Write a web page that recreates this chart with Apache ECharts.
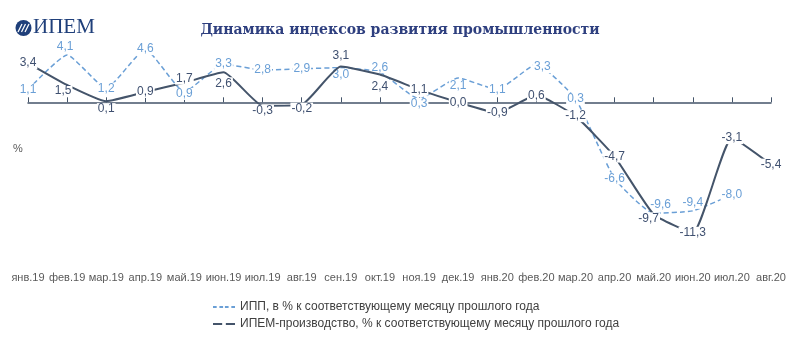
<!DOCTYPE html>
<html>
<head>
<meta charset="utf-8">
<script src="https://cdn.jsdelivr.net/npm/echarts@6/dist/echarts.min.js"></script>
<style>
  html, body { margin: 0; padding: 0; background: #fff; }
  #chart { width: 800px; height: 351px; }
</style>
</head>
<body>
<div id="chart"></div>
<script>
// месяцы
const months = ['янв.19', 'фев.19', 'мар.19', 'апр.19', 'май.19', 'июн.19', 'июл.19', 'авг.19', 'сен.19', 'окт.19',
  'ноя.19', 'дек.19', 'янв.20', 'фев.20', 'мар.20', 'апр.20', 'май.20', 'июн.20', 'июл.20', 'авг.20'];

// ИПП, в % к соответствующему месяцу прошлого года
const ippValues = [1.1, 4.1, 1.2, 4.6, 0.9, 3.3, 2.8, 2.9, 3.0, 2.6, 0.3, 2.1, 1.1, 3.3, 0.3, -6.6, -9.6, -9.4, -8.0, null];
// ИПЕМ-производство
const ipemValues = [3.4, 1.5, 0.1, 0.9, 1.7, 2.6, -0.3, -0.2, 3.1, 2.4, 1.1, 0.0, -0.9, 0.6, -1.2, -4.7, -9.7, -11.3, -3.1, -5.4];

const seriesNames = ['ИПП, в % к соответствующему месяцу прошлого года', 'ИПЕМ-производство, % к соответствующему месяцу прошлого года'];

// сдвиги подписей (как в исходнике)
const ippLabelShift = { 1: [-2, -8], 4: [0, 2], 8: [0, 7], 9: [0, -5], 10: [0, 5], 11: [0, 8], 13: [6, 3], 16: [7, -8], 17: [0, -8] };
const ipemLabelShift = { 1: [-4, 6], 2: [0, 8], 4: [0, -4], 5: [0, 11], 6: [0, 5], 7: [0, 4], 8: [0, -11], 9: [0, 12], 16: [-5, 4] };

const fmt = v => v.toFixed(1).replace('.', ',');

function buildData(values, shifts) {
  return values.map((v, i) => {
    if (v === null) return null;
    const item = { value: v };
    if (shifts[i]) item.label = { offset: shifts[i] };
    return item;
  });
}

const chart = echarts.init(document.getElementById('chart'), null, { renderer: 'canvas' });

const labelBase = {
  show: true,
  position: 'inside',
  fontSize: 12,
  fontFamily: 'Liberation Sans, Arial',
  backgroundColor: '#fff',
  padding: [0, 1],
  formatter: p => fmt(p.value)
};

const option = {
  backgroundColor: '#ffffff',
  animation: false,
  title: {
    text: 'Динамика индексов развития промышленности',
    left: 'center',
    top: 18,
    textStyle: { fontFamily: 'DejaVu Serif', fontWeight: 'bold', fontSize: 14, color: '#2e3f7f' }
  },
  graphic: [
    { type: 'circle', shape: { cx: 23.5, cy: 28, r: 8 }, style: { fill: '#1f3f7a' } },
    { type: 'line', shape: { x1: 18, y1: 32, x2: 22, y2: 24 }, style: { stroke: '#fff', lineWidth: 1.2 } },
    { type: 'line', shape: { x1: 21.5, y1: 32, x2: 25.5, y2: 24 }, style: { stroke: '#fff', lineWidth: 1.2 } },
    { type: 'line', shape: { x1: 25, y1: 32, x2: 29, y2: 24 }, style: { stroke: '#fff', lineWidth: 1.2 } },
    { type: 'text', left: 33, top: 17, style: { text: 'ИПЕМ', font: '21px "Liberation Serif"', fill: '#1f3f7a' } },
    { type: 'text', left: 13, top: 143, style: { text: '%', font: '11px "Liberation Sans"', fill: '#595959' } }
  ],
  legend: {
    orient: 'vertical',
    left: 208,
    top: 296,
    itemGap: 5,
    itemWidth: 22,
    itemHeight: 2,
    textStyle: { fontSize: 12, fontFamily: 'Liberation Sans, Arial', color: '#404040' },
    data: [
      { name: seriesNames[0], icon: 'path://M0,0H4V2H0Z M7,0H11V2H7Z M13,0H17V2H13Z M20,0H24V2H20Z' },
      { name: seriesNames[1], icon: 'path://M0,0H10V2H0Z M14,0H24V2H14Z' }
    ]
  },
  grid: { left: 28, right: 29, top: 33, bottom: 87 },
  xAxis: [
    {
      type: 'category',
      data: months,
      boundaryGap: false,
      axisLine: { onZero: true, lineStyle: { color: '#44546a', width: 1.5 } },
      axisTick: { show: true, inside: true, length: 5, interval: 0, lineStyle: { color: '#44546a' } },
      axisLabel: { show: false }
    },
    {
      type: 'category',
      data: months,
      boundaryGap: false,
      position: 'bottom',
      axisLine: { show: false, onZero: false },
      axisTick: { show: false },
      axisLabel: { interval: 0, fontSize: 11, fontFamily: 'Liberation Sans, Arial', color: '#595959', margin: 8 }
    }
  ],
  yAxis: {
    type: 'value',
    min: -14,
    max: 6,
    show: false
  },
  series: [
    {
      name: seriesNames[0],
      type: 'line',
      xAxisIndex: 0,
      data: buildData(ippValues, ippLabelShift),
      smooth: 0.15,
      symbol: 'circle',
      symbolSize: 0,
      showSymbol: true,
      showAllSymbol: true,
      color: '#6a9fd6',
      lineStyle: { color: '#6a9fd6', width: 1.5, type: [5, 3] },
      label: Object.assign({}, labelBase, { color: '#6a9fd6' }),
      z: 2
    },
    {
      name: seriesNames[1],
      type: 'line',
      xAxisIndex: 0,
      data: buildData(ipemValues, ipemLabelShift),
      smooth: 0.15,
      symbol: 'circle',
      symbolSize: 0,
      showSymbol: true,
      showAllSymbol: true,
      color: '#44546a',
      lineStyle: { color: '#44546a', width: 2 },
      label: Object.assign({}, labelBase, { color: '#3f5070' }),
      z: 3
    }
  ]
};

chart.setOption(option);
</script>
</body>
</html>
